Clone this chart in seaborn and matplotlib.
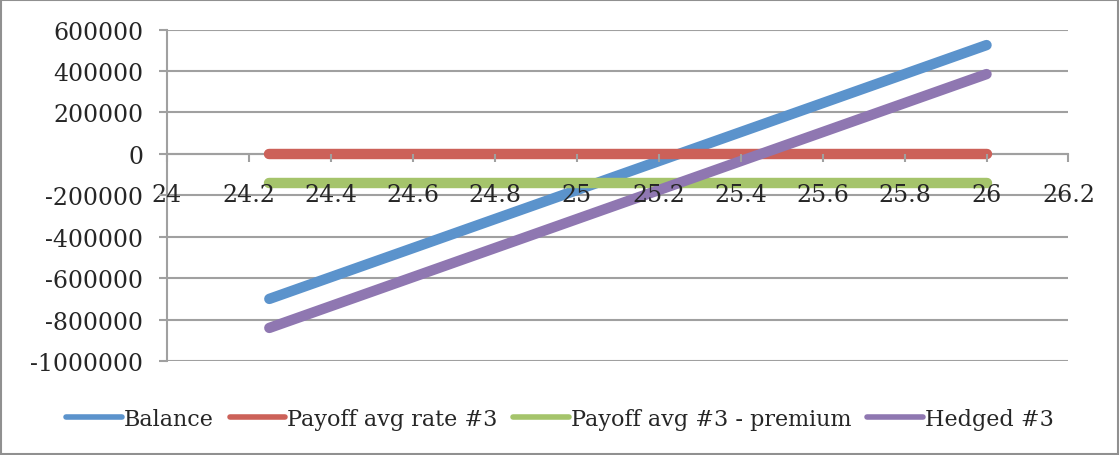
import pandas as pd
import matplotlib.pyplot as plt
import seaborn as sns
from matplotlib.patches import Rectangle

# Data
rates = [24.25, 24.5, 24.75, 25.0, 25.25, 25.5, 25.75, 26.0]
balance = [-700000, -525000, -350000, -175000, 0, 175000, 350000, 525000]
payoff_avg_rate = [0, 0, 0, 0, 0, 0, 0, 0]
payoff_minus_premium = [-140000] * 8
hedged = [-840000, -665000, -490000, -315000, -140000, 35000, 210000, 385000]

series_names = ['Balance', 'Payoff avg rate #3', 'Payoff avg #3 - premium', 'Hedged #3']
colors = ['#5b93cc', '#cc6159', '#a5c46b', '#8f77b1']
x_ticks = [24 + 0.2 * i for i in range(12)]
x_labels = ['24', '24.2', '24.4', '24.6', '24.8', '25', '25.2', '25.4',
            '25.6', '25.8', '26', '26.2']
y_ticks = list(range(-1000000, 600001, 200000))

df = pd.concat([
    pd.DataFrame({'x': rates, 'y': vals, 'series': name})
    for name, vals in zip(series_names, [balance, payoff_avg_rate, payoff_minus_premium, hedged])
])

sns.set_style('white')
plt.rcParams['font.family'] = ['DejaVu Serif']

fig = plt.figure(figsize=(11.2, 4.56), dpi=100)
ax = fig.add_axes([0.149, 0.206, 0.805, 0.727])

grey = '#a0a0a0'
# horizontal gridlines behind the data
for v in y_ticks:
    ax.axhline(v, color=grey, linewidth=1.5, zorder=1)

sns.lineplot(data=df, x='x', y='y', hue='series', hue_order=series_names,
             palette=colors, linewidth=7.5, solid_capstyle='round', ax=ax,
             sort=False, zorder=2)

ax.set_xlim(24, 26.2)
ax.set_ylim(-1000000, 600000)
ax.set_xticks(x_ticks)
ax.set_xticklabels(x_labels)
ax.set_yticks(y_ticks)
ax.set_yticklabels([str(v) for v in y_ticks])
ax.set_axisbelow(False)  # tick labels drawn over the lines

for s in ['top', 'right']:
    ax.spines[s].set_visible(False)
ax.spines['bottom'].set_position(('data', 0))
for s in ['bottom', 'left']:
    ax.spines[s].set_color(grey)
    ax.spines[s].set_linewidth(1.5)
    ax.spines[s].set_zorder(1)

ax.tick_params(axis='x', direction='out', length=6, width=1.5, color=grey,
               pad=15, labelsize=17, bottom=True)
ax.tick_params(axis='y', direction='out', length=6, width=1.5, color=grey,
               pad=11, labelsize=17, left=True)
ax.set_xlabel('')
ax.set_ylabel('')

ax.legend(loc='center', bbox_to_anchor=(0.5, 0.079), bbox_transform=fig.transFigure,
          frameon=False, ncol=4, fontsize=16, handlelength=2.5, handletextpad=0.1,
          columnspacing=0.7)
for line in ax.get_legend().get_lines():
    line.set_linewidth(4)

fig.patches.append(Rectangle((0.001, 0.002), 0.997, 0.995, transform=fig.transFigure,
                             fill=False, edgecolor='#909090', linewidth=1.5))

plt.savefig('out.png', dpi=100)
